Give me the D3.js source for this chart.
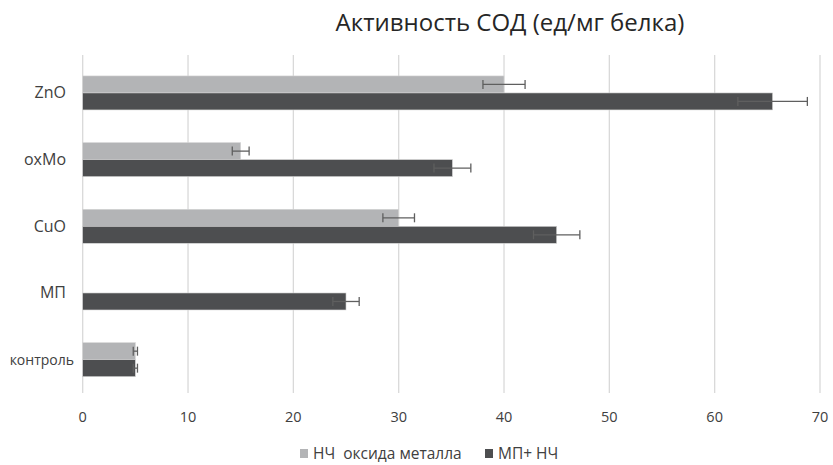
<!DOCTYPE html>
<html>
<head>
<meta charset="utf-8">
<script src="https://cdn.jsdelivr.net/npm/d3@7"></script>
<style>
  body { margin: 0; background: #fff; }
  svg { display: block; }
</style>
</head>
<body>
<div id="chart"></div>
<script>
// categories top to bottom
const categories = ["ZnO", "oxMo", "CuO", "МП", "контроль"];
const seriesNames = ["НЧ  оксида металла", "МП+ НЧ"];
// null = no bar
const nchValues = [40, 15, 30, null, 5];
const nchErrors = [2, 0.8, 1.5, null, 0.2];
const mpValues = [65.5, 35.1, 45, 25, 5];
const mpErrors = [3.3, 1.75, 2.2, 1.25, 0.2];
const xTicks = [0, 10, 20, 30, 40, 50, 60, 70];

const colors = ["#b3b4b6", "#4d4e50"];
const font = "'Open Sans', sans-serif";

const svg = d3.select("#chart")
  .append("svg")
  .attr("width", 833)
  .attr("height", 465);

const x = d3.scaleLinear()
  .domain([0, 70])
  .range([82.7, 820]);

const y = d3.scaleBand()
  .domain(categories)
  .range([59.6, 393])
  .paddingInner(0.49)
  .paddingOuter(0.245);

const sub = d3.scaleBand()
  .domain([0, 1])
  .range([0, y.bandwidth()]);

// title
svg.append("text")
  .attr("x", 510)
  .attr("y", 31)
  .attr("text-anchor", "middle")
  .style("font-family", font)
  .style("font-size", "24px")
  .attr("fill", "#262626")
  .text("Активность СОД (ед/мг белка)");

// gridlines
svg.append("g")
  .selectAll("line")
  .data(xTicks)
  .join("line")
  .attr("x1", d => x(d))
  .attr("x2", d => x(d))
  .attr("y1", 55)
  .attr("y2", 393)
  .attr("stroke", "#d9d9d9")
  .attr("stroke-width", 1.3);

// x tick labels
svg.append("g")
  .selectAll("text")
  .data(xTicks)
  .join("text")
  .attr("x", d => x(d))
  .attr("y", 422)
  .attr("text-anchor", "middle")
  .style("font-family", font)
  .style("font-size", "14.5px")
  .attr("fill", "#404040")
  .text(d => d);

// bars
const rows = categories.map((c, i) => ({
  cat: c,
  vals: [
    { s: 0, v: nchValues[i], e: nchErrors[i] },
    { s: 1, v: mpValues[i], e: mpErrors[i] }
  ].filter(d => d.v != null)
}));

const group = svg.append("g")
  .selectAll("g")
  .data(rows)
  .join("g")
  .attr("transform", d => `translate(0,${y(d.cat)})`);

group.selectAll("rect")
  .data(d => d.vals)
  .join("rect")
  .attr("x", x(0))
  .attr("y", d => sub(d.s))
  .attr("width", d => x(d.v) - x(0))
  .attr("height", sub.bandwidth())
  .attr("fill", d => colors[d.s])
  .attr("stroke", "#d6d6d6")
  .attr("stroke-width", 0.6);

// error bars
const err = group.selectAll("g.err")
  .data(d => d.vals)
  .join("g")
  .attr("class", "err")
  .attr("transform", d => `translate(0,${sub(d.s) + sub.bandwidth() / 2})`);

err.append("line")
  .attr("x1", d => x(d.v - d.e))
  .attr("x2", d => x(d.v + d.e))
  .attr("y1", 0)
  .attr("y2", 0)
  .attr("stroke", "#5f5f5f")
  .attr("stroke-width", 1.3);

err.selectAll("line.cap")
  .data(d => [d.v - d.e, d.v + d.e])
  .join("line")
  .attr("class", "cap")
  .attr("x1", d => x(d))
  .attr("x2", d => x(d))
  .attr("y1", -4.5)
  .attr("y2", 4.5)
  .attr("stroke", "#5f5f5f")
  .attr("stroke-width", 1.3);

// category labels
svg.append("g")
  .selectAll("text")
  .data(categories)
  .join("text")
  .attr("x", d => d === "контроль" ? 74 : 66)
  .attr("y", d => y(d) + y.bandwidth() / 2 + 5.5)
  .attr("text-anchor", "end")
  .style("font-family", font)
  .style("font-size", d => d === "контроль" ? "14px" : "16px")
  .attr("fill", "#404040")
  .text(d => d);

// legend
const legendX = [300, 485];
const legend = svg.append("g")
  .selectAll("g")
  .data(seriesNames)
  .join("g")
  .attr("transform", (d, i) => `translate(${legendX[i]},449)`);

legend.append("rect")
  .attr("width", 8)
  .attr("height", 9)
  .attr("fill", (d, i) => colors[i]);

legend.append("text")
  .attr("x", 13)
  .attr("y", 10)
  .style("font-family", font)
  .style("font-size", "15.5px")
  .style("white-space", "pre")
  .attr("fill", "#404040")
  .text(d => d);
</script>
</body>
</html>
